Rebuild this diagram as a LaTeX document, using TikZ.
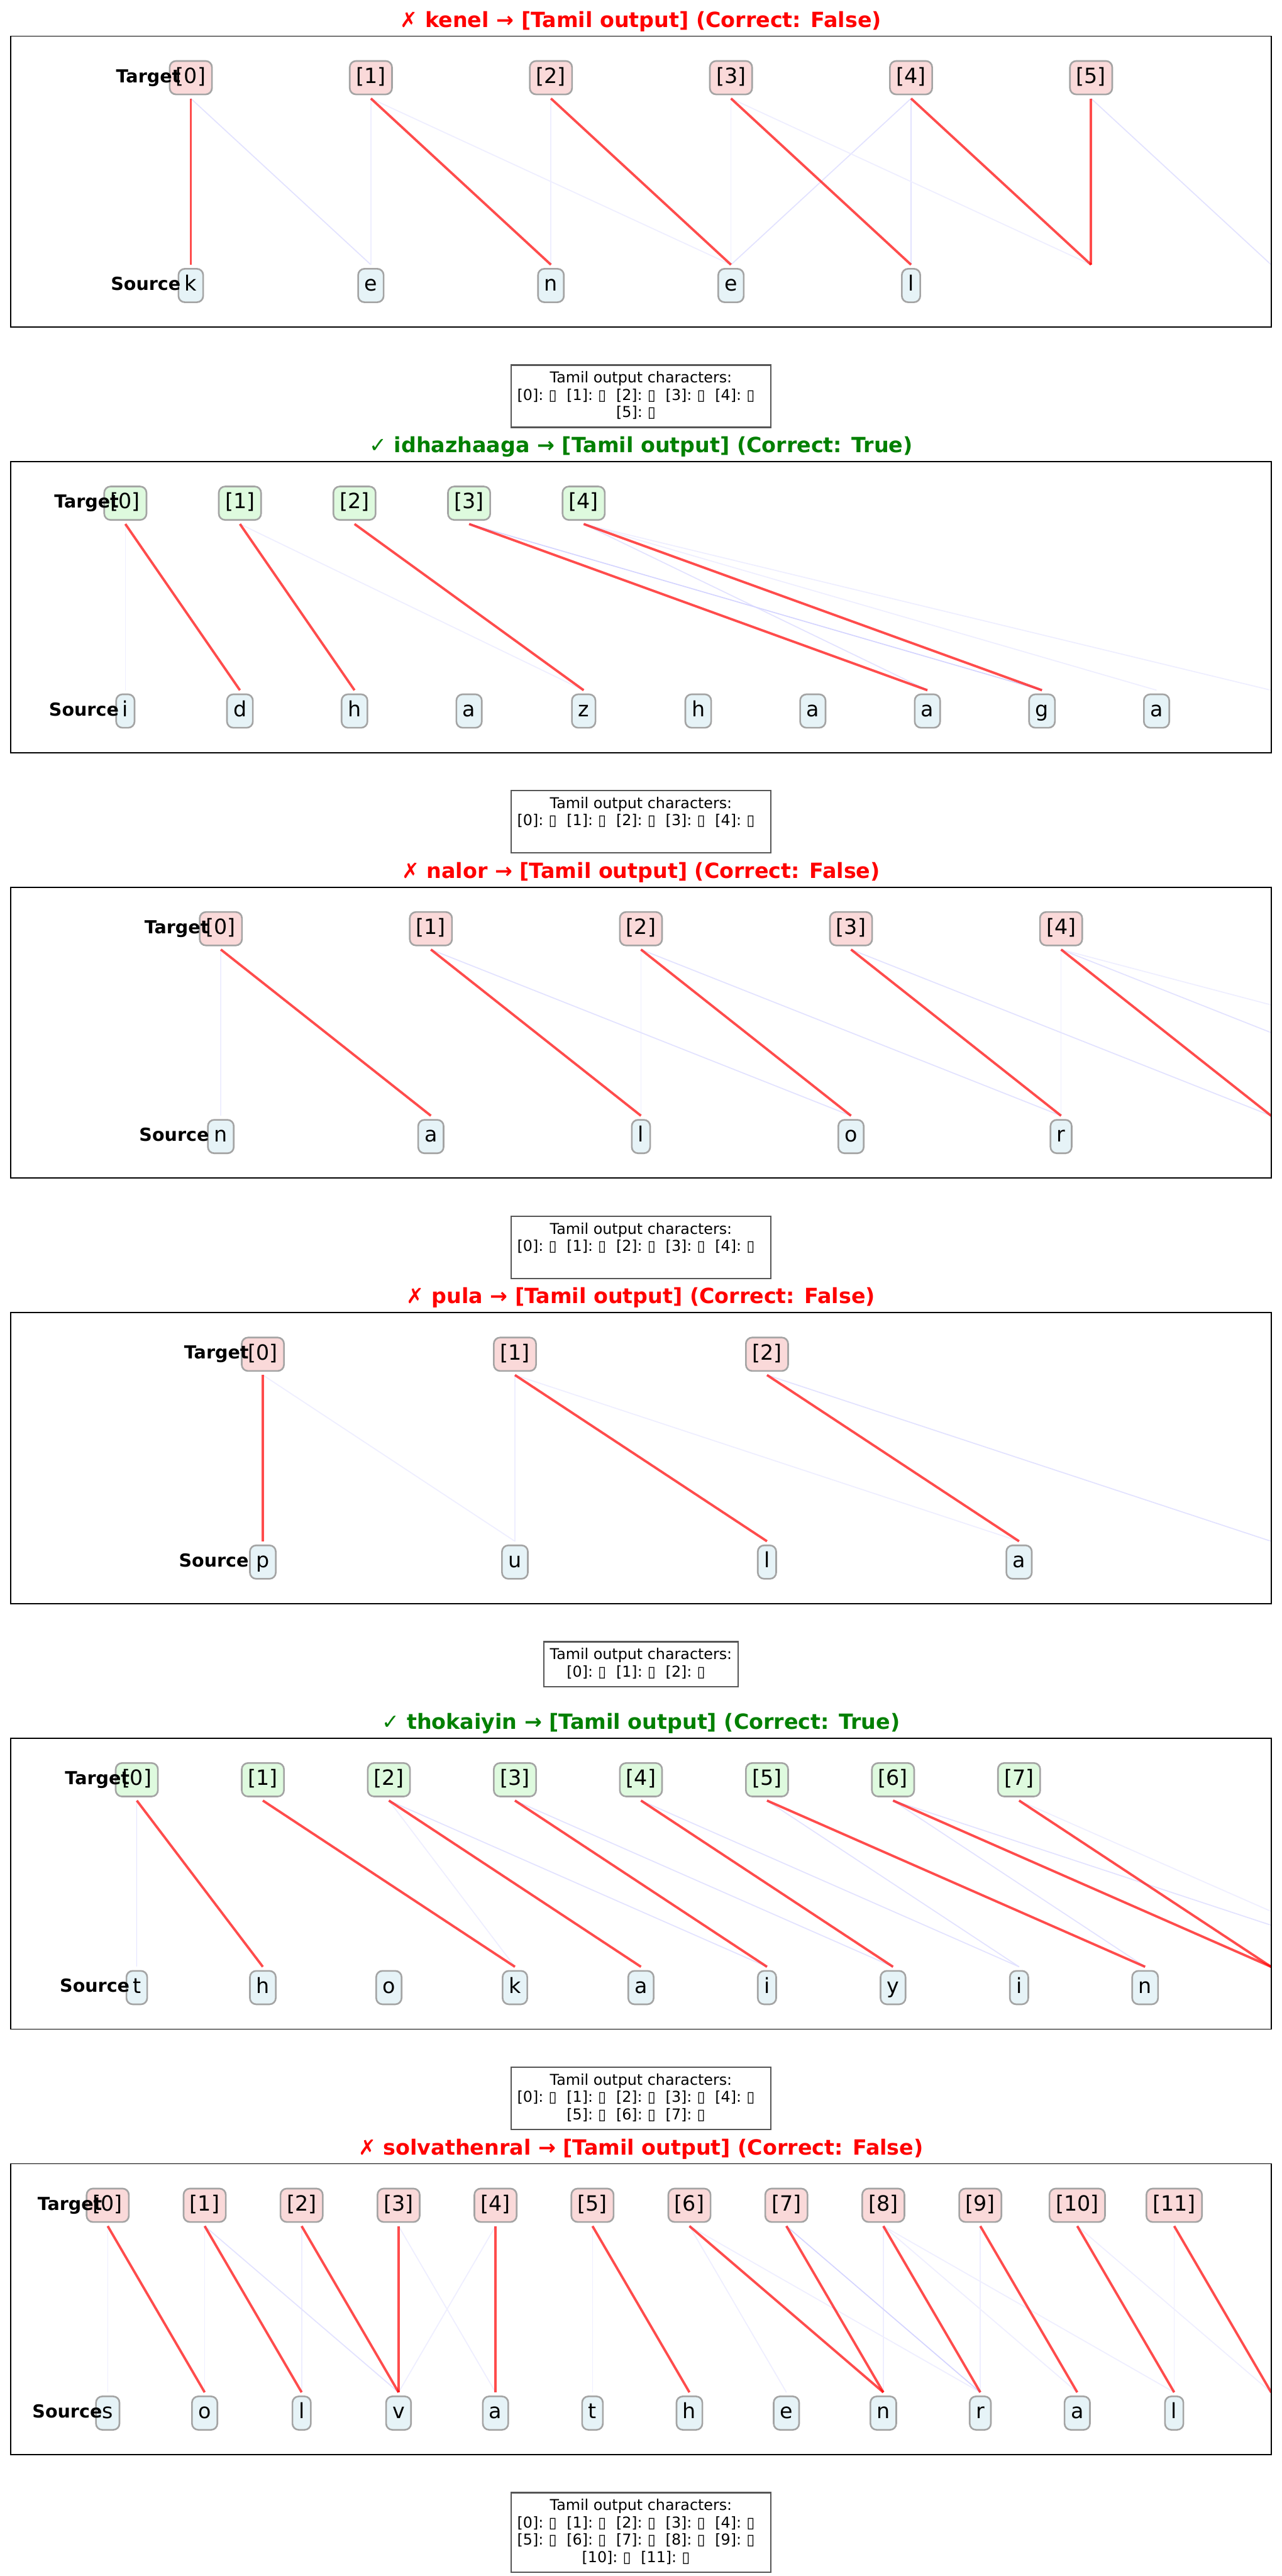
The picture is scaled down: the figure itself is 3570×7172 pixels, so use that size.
\documentclass[tikz,border=0pt]{standalone}
\usepackage{fontspec}
\setmainfont{DejaVu Sans}
\definecolor{tgtred}{HTML}{FAD9D9}
\definecolor{tgtgreen}{HTML}{DEFADE}
\definecolor{srcblue}{HTML}{E6F3F7}
\definecolor{boxedge}{HTML}{A4A4A4}
\definecolor{attA}{HTML}{EEEEFF}
\definecolor{attB}{HTML}{E2E2FF}
\definecolor{attC}{HTML}{D4D4FF}
\definecolor{capedge}{HTML}{555555}
\definecolor{okgreen}{HTML}{008000}
\newcommand{\tofu}{\makebox[0.6em]{▯}}
\newcommand{\gap}{\kern0.636em}
\newcommand{\lpstrut}{\rule[-2.36pt]{0pt}{9.96pt}}
\newcommand{\itm}[1]{[#1]:\kern0.318em\tofu}
\tikzset{
  nbox/.style={draw=boxedge, line width=1.1pt, rounded corners=4.2pt,
    font=\fontsize{14}{16.8}\selectfont, text height=10.64pt, text depth=3.3pt,
    inner xsep=4.2pt, inner ysep=4.2pt},
  tbad/.style={nbox, fill=tgtred},
  tgood/.style={nbox, fill=tgtgreen},
  srcbox/.style={nbox, fill=srcblue},
  rowlabel/.style={font=\fontsize{12}{14.4}\selectfont\bfseries, anchor=east,
    text height=9.12pt, text depth=2.83pt, inner sep=0pt},
  ttl/.style={font=\fontsize{14}{16.8}\selectfont\bfseries, anchor=base, inner sep=0pt},
  capbox/.style={draw=capedge, line width=1pt, fill=white, font=\fontsize{10}{11.5}\selectfont,
    align=center, anchor=north, inner xsep=4.1pt, inner ysep=4.3pt},
  aln/.style={draw=red, draw opacity=0.7, line width=1.6pt},
  wA/.style={draw=attA, line width=0.7pt},
  wB/.style={draw=attB, line width=0.7pt},
  wC/.style={draw=attC, line width=0.7pt},
  frm/.style={draw=black, line width=0.8pt},
}
% #1 id, #2 top (px), #3 right x-limit index
\newcommand{\panelsetup}[3]{%
  \pgfmathsetmacro{\pT}{#2}%
  \pgfmathsetmacro{\pS}{3510/(#3+1)}%
  \foreach \j in {0,...,15} {
    \coordinate (#1t\j) at ({30+\pS*(\j+1)},{\pT+173.6});
    \coordinate (#1s\j) at ({30+\pS*(\j+1)},{\pT+636.4});
  }%
}
\begin{document}
\begin{tikzpicture}[x=0.24pt, y=-0.24pt]
\useasboundingbox[fill=white] (0,0) rectangle (3570,7172);

%%%%%%%%%%%%%%%% Panel 1: kenel
\panelsetup{p1}{100.6}{6}
\node[ttl, text=red] (p1ttl) at (1785,{\pT-25}) {✗ kenel → [Tamil output] (Correct: False)};
\begin{scope}
\clip (30,\pT) rectangle (3540,\pT+810);
\foreach \a/\b in {0/1,4/3,4/4,5/6} \draw[wB] (p1t\a) -- (p1s\b);
\foreach \a/\b in {1/1,1/3,2/2,3/3,3/5} \draw[wA] (p1t\a) -- (p1s\b);
\foreach \a/\b in {0/0,1/2,2/3,3/4,4/5,5/5} \draw[aln] (p1t\a) -- (p1s\b);
\end{scope}
\draw[frm] (30,\pT) rectangle (3540,\pT+810);
\foreach \i in {0,...,5} \node[tbad] (p1T\i) at ({30+\pS*(\i+1)},{\pT+115.7}) {[\i]};
\foreach \c [count=\j from 0] in {k,e,n,e,l} \node[srcbox] (p1S\j) at ({30+\pS*(\j+1)},{\pT+694.3}) {\c};
\node[rowlabel] (p1lt) at ({30+\pS*0.945},{\pT+115.7}) {Target};
\node[rowlabel] (p1ls) at ({30+\pS*0.945},{\pT+694.3}) {Source};
\node[capbox] (p1cap) at (1785,{\pT+914}) {\lpstrut Tamil output characters:\\
\lpstrut\itm{0}\gap\itm{1}\gap\itm{2}\gap\itm{3}\gap\itm{4}\gap\\ \lpstrut\itm{5}\gap};

%%%%%%%%%%%%%%%% Panel 2: idhazhaaga
\panelsetup{p2}{1285.3}{10}
\node[ttl, text=okgreen] (p2ttl) at (1785,{\pT-25}) {✓ idhazhaaga → [Tamil output] (Correct: True)};
\begin{scope}
\clip (30,\pT) rectangle (3540,\pT+810);
\foreach \a/\b in {0/0,1/4,4/9,4/10} \draw[wA] (p2t\a) -- (p2s\b);
\foreach \a/\b in {4/7} \draw[wB] (p2t\a) -- (p2s\b);
\foreach \a/\b in {3/8} \draw[wC] (p2t\a) -- (p2s\b);
\foreach \a/\b in {0/1,1/2,2/4,3/7,4/8} \draw[aln] (p2t\a) -- (p2s\b);
\end{scope}
\draw[frm] (30,\pT) rectangle (3540,\pT+810);
\foreach \i in {0,...,4} \node[tgood] (p2T\i) at ({30+\pS*(\i+1)},{\pT+115.7}) {[\i]};
\foreach \c [count=\j from 0] in {i,d,h,a,z,h,a,a,g,a} \node[srcbox] (p2S\j) at ({30+\pS*(\j+1)},{\pT+694.3}) {\c};
\node[rowlabel] (p2lt) at ({30+\pS*0.945},{\pT+115.7}) {Target};
\node[rowlabel] (p2ls) at ({30+\pS*0.945},{\pT+694.3}) {Source};
\node[capbox] (p2cap) at (1785,{\pT+914}) {\lpstrut Tamil output characters:\\
\lpstrut\itm{0}\gap\itm{1}\gap\itm{2}\gap\itm{3}\gap\itm{4}\gap\\ \lpstrut};

%%%%%%%%%%%%%%%% Panel 3: nalor
\panelsetup{p3}{2470}{5}
\node[ttl, text=red] (p3ttl) at (1785,{\pT-25}) {✗ nalor → [Tamil output] (Correct: False)};
\begin{scope}
\clip (30,\pT) rectangle (3540,\pT+810);
\foreach \a/\b in {0/0,2/2,4/4,4/7} \draw[wA] (p3t\a) -- (p3s\b);
\foreach \a/\b in {1/3,2/4,3/5,4/6} \draw[wB] (p3t\a) -- (p3s\b);
\foreach \a/\b in {0/1,1/2,2/3,3/4,4/5} \draw[aln] (p3t\a) -- (p3s\b);
\end{scope}
\draw[frm] (30,\pT) rectangle (3540,\pT+810);
\foreach \i in {0,...,4} \node[tbad] (p3T\i) at ({30+\pS*(\i+1)},{\pT+115.7}) {[\i]};
\foreach \c [count=\j from 0] in {n,a,l,o,r} \node[srcbox] (p3S\j) at ({30+\pS*(\j+1)},{\pT+694.3}) {\c};
\node[rowlabel] (p3lt) at ({30+\pS*0.945},{\pT+115.7}) {Target};
\node[rowlabel] (p3ls) at ({30+\pS*0.945},{\pT+694.3}) {Source};
\node[capbox] (p3cap) at (1785,{\pT+914}) {\lpstrut Tamil output characters:\\
\lpstrut\itm{0}\gap\itm{1}\gap\itm{2}\gap\itm{3}\gap\itm{4}\gap\\ \lpstrut};

%%%%%%%%%%%%%%%% Panel 4: pula
\panelsetup{p4}{3654.7}{4}
\node[ttl, text=red] (p4ttl) at (1785,{\pT-25}) {✗ pula → [Tamil output] (Correct: False)};
\begin{scope}
\clip (30,\pT) rectangle (3540,\pT+810);
\foreach \a/\b in {0/1,1/1,1/3} \draw[wA] (p4t\a) -- (p4s\b);
\foreach \a/\b in {2/4} \draw[wB] (p4t\a) -- (p4s\b);
\foreach \a/\b in {0/0,1/2,2/3} \draw[aln] (p4t\a) -- (p4s\b);
\end{scope}
\draw[frm] (30,\pT) rectangle (3540,\pT+810);
\foreach \i in {0,...,2} \node[tbad] (p4T\i) at ({30+\pS*(\i+1)},{\pT+115.7}) {[\i]};
\foreach \c [count=\j from 0] in {p,u,l,a} \node[srcbox] (p4S\j) at ({30+\pS*(\j+1)},{\pT+694.3}) {\c};
\node[rowlabel] (p4lt) at ({30+\pS*0.945},{\pT+115.7}) {Target};
\node[rowlabel] (p4ls) at ({30+\pS*0.945},{\pT+694.3}) {Source};
\node[capbox] (p4cap) at (1785,{\pT+914}) {\lpstrut Tamil output characters:\\
\lpstrut\itm{0}\gap\itm{1}\gap\itm{2}\gap};

%%%%%%%%%%%%%%%% Panel 5: thokaiyin
\panelsetup{p5}{4839.4}{9}
\node[ttl, text=okgreen] (p5ttl) at (1785,{\pT-25}) {✓ thokaiyin → [Tamil output] (Correct: True)};
\begin{scope}
\clip (30,\pT) rectangle (3540,\pT+810);
\foreach \a/\b in {2/3,7/10} \draw[wA] (p5t\a) -- (p5s\b);
\foreach \a/\b in {0/0,2/5,3/6,4/7,5/7,6/8,6/10} \draw[wB] (p5t\a) -- (p5s\b);
\foreach \a/\b in {0/1,1/3,2/4,3/5,4/6,5/8,6/9,7/9} \draw[aln] (p5t\a) -- (p5s\b);
\end{scope}
\draw[frm] (30,\pT) rectangle (3540,\pT+810);
\foreach \i in {0,...,7} \node[tgood] (p5T\i) at ({30+\pS*(\i+1)},{\pT+115.7}) {[\i]};
\foreach \c [count=\j from 0] in {t,h,o,k,a,i,y,i,n} \node[srcbox] (p5S\j) at ({30+\pS*(\j+1)},{\pT+694.3}) {\c};
\node[rowlabel] (p5lt) at ({30+\pS*0.945},{\pT+115.7}) {Target};
\node[rowlabel] (p5ls) at ({30+\pS*0.945},{\pT+694.3}) {Source};
\node[capbox] (p5cap) at (1785,{\pT+914}) {\lpstrut Tamil output characters:\\
\lpstrut\itm{0}\gap\itm{1}\gap\itm{2}\gap\itm{3}\gap\itm{4}\gap\\ \lpstrut\itm{5}\gap\itm{6}\gap\itm{7}\gap};

%%%%%%%%%%%%%%%% Panel 6: solvathenral
\panelsetup{p6}{6024.1}{12}
\node[ttl, text=red] (p6ttl) at (1785,{\pT-25}) {✗ solvathenral → [Tamil output] (Correct: False)};
\begin{scope}
\clip (30,\pT) rectangle (3540,\pT+810);
\foreach \a/\b in {0/0,1/1,2/2,3/4,4/3,5/5,6/7,6/9,8/8,8/10,8/11,9/9,10/12,11/11} \draw[wA] (p6t\a) -- (p6s\b);
\foreach \a/\b in {1/3} \draw[wB] (p6t\a) -- (p6s\b);
\foreach \a/\b in {7/9} \draw[wC] (p6t\a) -- (p6s\b);
\foreach \a/\b in {0/1,1/2,2/3,3/3,4/4,5/6,6/8,7/8,8/9,9/10,10/11,11/12} \draw[aln] (p6t\a) -- (p6s\b);
\end{scope}
\draw[frm] (30,\pT) rectangle (3540,\pT+810);
\foreach \i in {0,...,11} \node[tbad] (p6T\i) at ({30+\pS*(\i+1)},{\pT+115.7}) {[\i]};
\foreach \c [count=\j from 0] in {s,o,l,v,a,t,h,e,n,r,a,l} \node[srcbox] (p6S\j) at ({30+\pS*(\j+1)},{\pT+694.3}) {\c};
\node[rowlabel] (p6lt) at ({30+\pS*0.945},{\pT+115.7}) {Target};
\node[rowlabel] (p6ls) at ({30+\pS*0.945},{\pT+694.3}) {Source};
\node[capbox] (p6cap) at (1785,{\pT+914}) {\lpstrut Tamil output characters:\\
\lpstrut\itm{0}\gap\itm{1}\gap\itm{2}\gap\itm{3}\gap\itm{4}\gap\\
\lpstrut\itm{5}\gap\itm{6}\gap\itm{7}\gap\itm{8}\gap\itm{9}\gap\\
\lpstrut\itm{10}\gap\itm{11}\gap};
\end{tikzpicture}
\end{document}
